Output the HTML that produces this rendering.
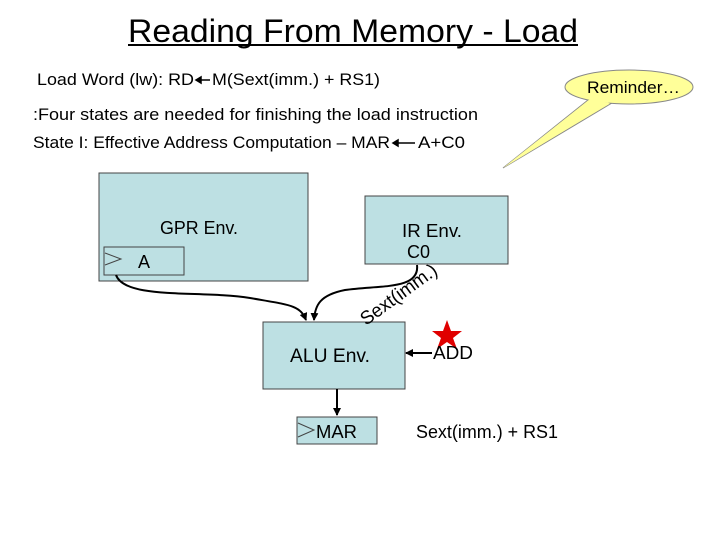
<!DOCTYPE html>
<html><head><meta charset="utf-8"><style>
html,body{margin:0;padding:0;background:#fff}
svg{display:block}
text{font-family:"Liberation Sans",Arial,sans-serif;fill:#000}
</style></head><body>
<svg width="720" height="540" viewBox="0 0 720 540" xmlns="http://www.w3.org/2000/svg">
<defs>
<marker id="ar" markerWidth="8" markerHeight="8" refX="7" refY="4" orient="auto" markerUnits="userSpaceOnUse">
<path d="M0,0 L8,4 L0,8 z" fill="#000"/></marker>
</defs>
<text x="128" y="42" font-size="32" textLength="450" lengthAdjust="spacingAndGlyphs">Reading From Memory - Load</text>
<line x1="128" y1="45" x2="578" y2="45" stroke="#000" stroke-width="2"/>
<text x="37" y="85" font-size="17" textLength="157" lengthAdjust="spacingAndGlyphs">Load Word (lw): RD</text>
<path d="M196,80 L210,80 M196,80 l5,-3 l0,6 z" stroke="#000" stroke-width="1.5" fill="#000"/>
<text x="212" y="85" font-size="17" textLength="168" lengthAdjust="spacingAndGlyphs">M(Sext(imm.) + RS1)</text>
<text x="33" y="120" font-size="17" textLength="445" lengthAdjust="spacingAndGlyphs">:Four states are needed for finishing the load instruction</text>
<text x="33" y="148" font-size="17" textLength="357" lengthAdjust="spacingAndGlyphs">State I: Effective Address Computation – MAR</text>
<path d="M393,143 L415,143 M393,143 l5,-3 l0,6 z" stroke="#000" stroke-width="1.5" fill="#000"/>
<text x="418" y="148" font-size="17" textLength="47" lengthAdjust="spacingAndGlyphs">A+C0</text>
<!-- balloon -->
<path d="M588,100 L503,168 L612,103 Z" fill="#ffff99" stroke="#888" stroke-width="1"/>
<ellipse cx="629" cy="87" rx="64" ry="17" fill="#ffff99" stroke="#888" stroke-width="1"/>
<path d="M590,99 L503,168 L610,103" fill="#ffff99" stroke="none"/>
<text x="587" y="93" font-size="17" textLength="93" lengthAdjust="spacingAndGlyphs">Reminder…</text>
<!-- boxes -->
<rect x="99" y="173" width="209" height="108" fill="#bde0e3" stroke="#444" stroke-width="1"/>
<text x="160" y="234" font-size="18" textLength="78" lengthAdjust="spacingAndGlyphs">GPR Env.</text>
<rect x="104" y="247" width="80" height="28" fill="#bde0e3" stroke="#444" stroke-width="1"/>
<path d="M105,253 L121,259 L105,265" fill="none" stroke="#444" stroke-width="1"/>
<text x="138" y="268" font-size="18">A</text>
<rect x="365" y="196" width="143" height="68" fill="#bde0e3" stroke="#444" stroke-width="1"/>
<text x="402" y="237" font-size="18" textLength="60" lengthAdjust="spacingAndGlyphs">IR Env.</text>
<text x="407" y="258" font-size="18">C0</text>
<rect x="263" y="322" width="142" height="67" fill="#bde0e3" stroke="#444" stroke-width="1"/>
<text x="290" y="362" font-size="19" textLength="80" lengthAdjust="spacingAndGlyphs">ALU Env.</text>
<rect x="297" y="417" width="80" height="27" fill="#bde0e3" stroke="#444" stroke-width="1"/>
<path d="M298,423 L314,430 L298,437" fill="none" stroke="#444" stroke-width="1"/>
<text x="316" y="438" font-size="18" textLength="41" lengthAdjust="spacingAndGlyphs">MAR</text>
<!-- connectors -->
<path d="M116,275 C125,300 200,290 250,298 C290,305 300,305 306,320" fill="none" stroke="#000" stroke-width="2" marker-end="url(#ar)"/>
<path d="M417,265 C420,290 380,285 345,290 C320,295 315,305 314,320" fill="none" stroke="#000" stroke-width="2" marker-end="url(#ar)"/>
<line x1="432" y1="353" x2="406" y2="353" stroke="#000" stroke-width="2" marker-end="url(#ar)"/>
<line x1="337" y1="389" x2="337" y2="415" stroke="#000" stroke-width="2" marker-end="url(#ar)"/>
<text x="0" y="0" font-size="19" transform="translate(366,326) rotate(-36)" textLength="90" lengthAdjust="spacingAndGlyphs">Sext(imm.)</text>
<polygon points="447,320 451,331 462,331 453,338 457,349 447,342 437,349 441,338 432,331 443,331" fill="#e00000"/>
<text x="433" y="359" font-size="18" textLength="40" lengthAdjust="spacingAndGlyphs">ADD</text>
<text x="416" y="438" font-size="18" textLength="142" lengthAdjust="spacingAndGlyphs">Sext(imm.) + RS1</text>
</svg>
</body></html>
